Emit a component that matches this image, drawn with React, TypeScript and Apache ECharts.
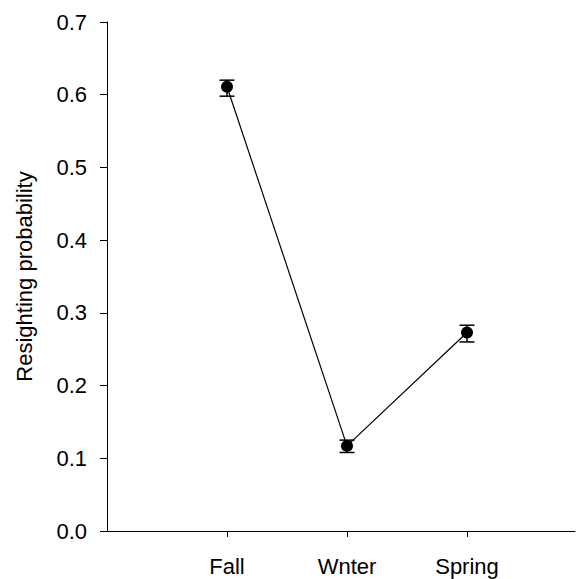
import React, { useEffect, useRef } from "react";
import * as echarts from "echarts";

const categories = ["Fall", "Wnter", "Spring"];
const positions = [1, 2, 3];
const means = [0.611, 0.117, 0.273];
const lower = [0.598, 0.108, 0.26];
const upper = [0.62, 0.125, 0.283];
const yTicks = [0, 0.1, 0.2, 0.3, 0.4, 0.5, 0.6, 0.7];

const FONT = "'Liberation Sans', Arial, sans-serif";

export default function App() {
  const ref = useRef<HTMLDivElement>(null);
  useEffect(() => {
    document.body.style.margin = "0";
    if (!ref.current) return;
    const chart = echarts.init(ref.current, undefined, { renderer: "svg" });
    const lineData = positions.map((p, i) => [p, means[i]]);
    const errData = positions.map((p, i) => [p, lower[i], upper[i]]);
    chart.setOption({
      animation: false,
      backgroundColor: "#ffffff",
      grid: { left: 107, top: 22, right: 1, bottom: 48 },
      xAxis: {
        type: "value",
        min: 0,
        max: 3.9,
        interval: 1,
        splitLine: { show: false },
        axisLine: { show: true, onZero: false, lineStyle: { color: "#000", width: 1 } },
        axisTick: {
          show: true,
          length: 6,
          customValues: positions,
          lineStyle: { color: "#000", width: 1 },
        },
        axisLabel: {
          customValues: positions,
          margin: 24,
          fontSize: 22,
          fontFamily: FONT,
          color: "#000",
          formatter: (v: number) => categories[Math.round(v) - 1] ?? "",
        },
      },
      yAxis: {
        type: "value",
        min: 0,
        max: 0.7,
        interval: 0.1,
        name: "Resighting probability",
        nameLocation: "middle",
        nameGap: 72,
        nameTextStyle: { fontSize: 22, fontFamily: FONT, color: "#000" },
        splitLine: { show: false },
        axisLine: { show: true, lineStyle: { color: "#000", width: 1 } },
        axisTick: {
          show: true,
          length: 7,
          customValues: yTicks,
          lineStyle: { color: "#000", width: 1 },
        },
        axisLabel: {
          margin: 20,
          fontSize: 22,
          fontFamily: FONT,
          color: "#000",
          formatter: (v: number) => v.toFixed(1),
        },
      },
      series: [
        {
          type: "custom",
          data: errData,
          z: 3,
          renderItem: (params: any, api: any) => {
            const x = api.value(0);
            const lo = api.coord([x, api.value(1)]);
            const hi = api.coord([x, api.value(2)]);
            const hw = 7.5;
            const style = { stroke: "#000", lineWidth: 1.5 };
            return {
              type: "group",
              children: [
                { type: "line", shape: { x1: lo[0], y1: lo[1], x2: hi[0], y2: hi[1] }, style },
                { type: "line", shape: { x1: lo[0] - hw, y1: lo[1], x2: lo[0] + hw, y2: lo[1] }, style },
                { type: "line", shape: { x1: hi[0] - hw, y1: hi[1], x2: hi[0] + hw, y2: hi[1] }, style },
              ],
            };
          },
        },
        {
          type: "line",
          data: lineData,
          z: 4,
          symbol: "circle",
          symbolSize: 12,
          lineStyle: { color: "#000", width: 1.2 },
          itemStyle: { color: "#000" },
        },
      ],
    });
    return () => chart.dispose();
  }, []);
  return <div ref={ref} style={{ width: 576, height: 579 }} />;
}
